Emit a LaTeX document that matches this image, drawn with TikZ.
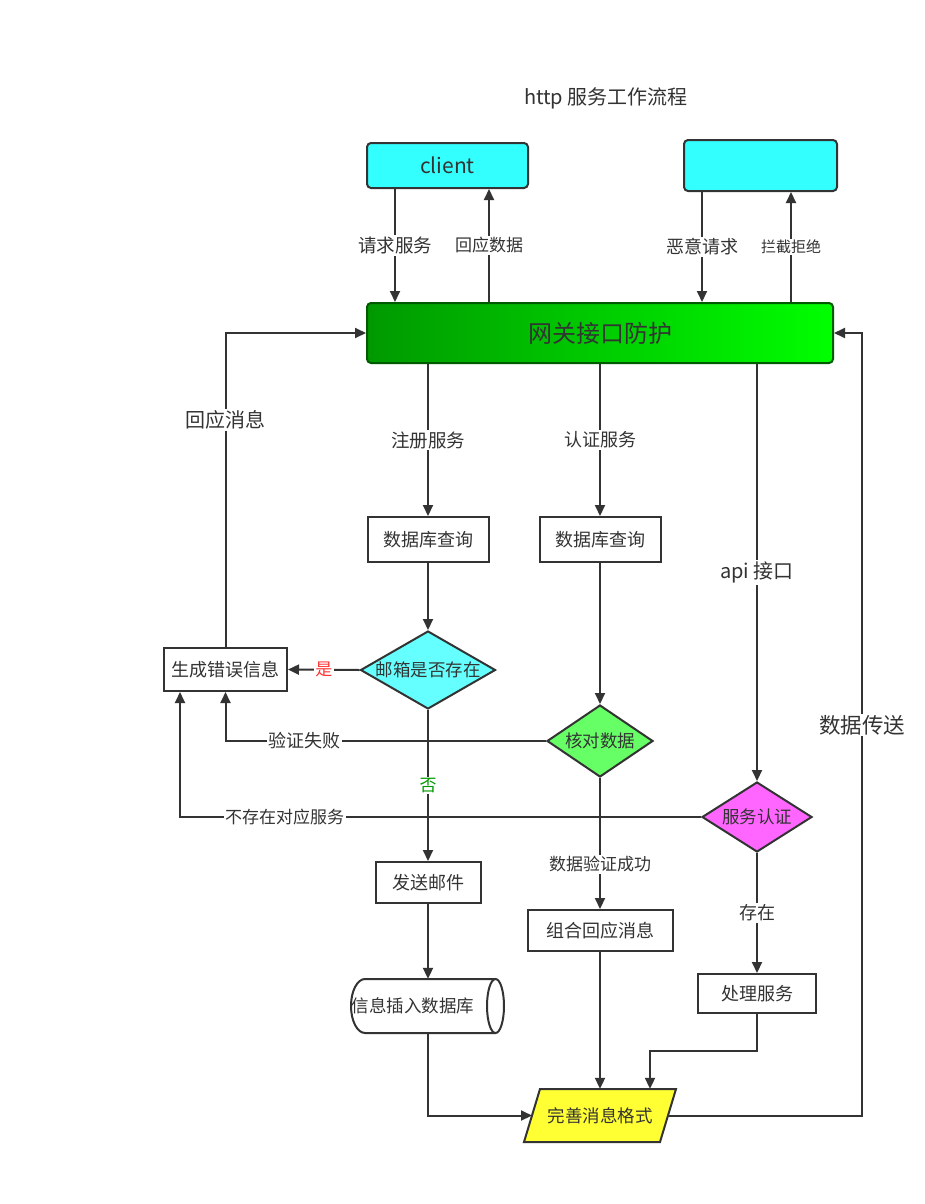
\documentclass[tikz,border=0pt]{standalone}
\usepackage{fontspec}
\setmainfont{Noto Sans CJK SC}
\usetikzlibrary{arrows.meta,calc,shapes.geometric}

\definecolor{lc}{HTML}{333333}
\definecolor{tc}{HTML}{333333}
\definecolor{cyanbox}{HTML}{33FFFF}
\definecolor{gwL}{HTML}{009900}
\definecolor{gwR}{HTML}{00FF00}
\definecolor{gwline}{HTML}{005A00}
\definecolor{mailc}{HTML}{66FFFF}
\definecolor{chkc}{HTML}{66FF66}
\definecolor{svcc}{HTML}{FF66FF}
\definecolor{parac}{HTML}{FFFF33}
\definecolor{yesc}{HTML}{FF3333}
\definecolor{noc}{HTML}{009900}

\newcommand{\fsz}[1]{\fontsize{#1}{#1}\selectfont}

\begin{document}
\begin{tikzpicture}[x=1pt,y=-1pt,
  ln/.style={draw=lc, line width=2pt},
  arr/.style={ln, -{Triangle[length=11pt,width=10pt]}},
  box/.style={draw=lc, line width=2pt, fill=white, inner sep=0pt, text=tc, font=\fsz{18}},
  dia/.style={diamond, draw=lc, line width=2pt, inner sep=0pt, text=tc, font=\fsz{17.5}},
  lbl/.style={fill=white, inner sep=1.5pt, text=tc, font=\fsz{18}}]

% page
\fill[white] (0,0) rectangle (925,1204);

% title
\node[text=tc, font=\fsz{20}] (title) at (606,98) {http 服务工作流程};

% top row
\node[box, rounded corners=4pt, fill=cyanbox, minimum width=161, minimum height=45, font=\fsz{21}] (client) at (447.5,165.5) {client};
\node[box, rounded corners=4pt, fill=cyanbox, minimum width=153, minimum height=51] (guard) at (760.5,165.5) {};
\node[box, rounded corners=4pt, draw=gwline, left color=gwL, right color=gwR, minimum width=466, minimum height=60, font=\fsz{24}] (gw) at (600,333) {网关接口防护};

% registration column
\node[box, minimum width=121, minimum height=45] (db1) at (428,539.5) {数据库查询};
\node[dia, fill=mailc, minimum width=135, minimum height=78] (mail) at (428,670) {\makebox[0pt]{邮箱是否存在}};
\node[box, minimum width=123, minimum height=43] (err) at (225.5,669.5) {生成错误信息};
\node[box, minimum width=105, minimum height=41] (send) at (428,882.5) {发送邮件};

% database cylinder (lying, face to the right)
\fill[white] (365,979) -- (495.5,979) -- (495.5,1033) -- (365,1033)
  .. controls (357.3,1033) and (351,1020.9) .. (351,1006)
  .. controls (351,991.1) and (357.3,979) .. (365,979) -- cycle;
\draw[ln] (495.5,979) -- (365,979)
  .. controls (357.3,979) and (351,991.1) .. (351,1006)
  .. controls (351,1020.9) and (357.3,1033) .. (365,1033) -- (495.5,1033);
\draw[ln, fill=white] (495.5,1006) ellipse [x radius=8.5, y radius=27];
\node[inner sep=0pt, minimum width=153, minimum height=54, text=tc, font=\fsz{17.5}] (ins) at (428,1006) {\makebox[0pt]{\hspace{-30pt}信息插入数据库}};

% authentication column
\node[box, minimum width=121, minimum height=45] (db2) at (600,539.5) {数据库查询};
\node[dia, fill=chkc, minimum width=106, minimum height=72] (chk) at (600,741) {\makebox[0pt]{核对数据}};
\node[box, minimum width=145, minimum height=41] (combo) at (600,930.5) {组合回应消息};

% api column
\node[dia, fill=svcc, minimum width=110, minimum height=70] (svc) at (757,817) {\makebox[0pt]{服务认证}};
\node[box, minimum width=118, minimum height=39] (proc) at (757,993.5) {处理服务};

% output parallelogram
\filldraw[ln, fill=parac] (540,1089) -- (676,1089) -- (660,1142) -- (524,1142) -- cycle;
\node[inner sep=0pt, minimum width=136, minimum height=53, text=tc, font=\fsz{17.5}] (para) at (600,1115.5) {完善消息格式};
\coordinate (paraL) at (532,1115.5);
\coordinate (paraR) at (668,1115.5);
\coordinate (rt) at (862,1115.5);

% client / guard <-> gateway
\draw[arr] ($(client.south)+(-52.5,0)$) -- ($(gw.north)+(-205,0)$) node[lbl, midway, font=\fsz{18.5}] (l1) {请求服务};
\draw[arr] ($(gw.north)+(-111,0)$) -- ($(client.south)+(41.5,0)$) node[lbl, midway, font=\fsz{17}] (l2) {回应数据};
\draw[arr] ($(guard.south)+(-58.5,0)$) -- ($(gw.north)+(102,0)$) node[lbl, midway] (l3) {恶意请求};
\draw[arr] ($(gw.north)+(191,0)$) -- ($(guard.south)+(30.5,0)$) node[lbl, midway, font=\fsz{15}] (l4) {拦截拒绝};

% gateway fan-out
\draw[arr] (gw.south -| db1.north) -- (db1.north) node[lbl, midway, font=\fsz{18.5}] (l5) {注册服务};
\draw[arr] (gw.south -| db2.north) -- (db2.north) node[lbl, midway] (l6) {认证服务};
\draw[arr] (gw.south -| svc.north) -- (svc.north) node[lbl, midway, font=\fsz{20}] (l7) {api 接口};

% registration flow
\draw[arr] (db1.south) -- (mail.north);
\draw[arr] (mail.west) -- (err.east) node[lbl, midway, text=yesc, font=\fsz{17}] (l8) {是};
\draw[arr] (mail.south) -- (send.north) node[lbl, midway, text=noc, font=\fsz{17}] (l9) {否};
\draw[arr] (send.south) -- (ins.north);
\draw[arr] (ins.south) |- (paraL);

% authentication flow
\draw[arr] (db2.south) -- (chk.north);
\draw[arr] (chk.west) -| (err.south) node[lbl, pos=0.377] (l10) {验证失败};
\draw[arr] (chk.south) -- (combo.north) node[lbl, pos=0.66, font=\fsz{17}] (l11) {数据验证成功};
\draw[arr] (combo.south) -- (para.north);

% api flow
\draw[arr] (svc.west) -| ($(err.south)+(-45.5,0)$) node[lbl, pos=0.3995, font=\fsz{17}] (l12) {不存在对应服务};
\draw[arr] (svc.south) -- (proc.north) node[lbl, midway] (l13) {存在};
\draw[arr] (proc.south) -- ++(0,37) -| ($(para.north)+(50,0)$);

% replies back to the gateway
\draw[arr] (err.north) |- (gw.west) node[lbl, pos=0.362, font=\fsz{20}] (l14) {回应消息};
\draw[arr] (paraR) -- (rt) |- (gw.east) node[lbl, pos=0.2495, font=\fsz{21.5}] (l15) {数据传送};

\end{tikzpicture}
\end{document}
